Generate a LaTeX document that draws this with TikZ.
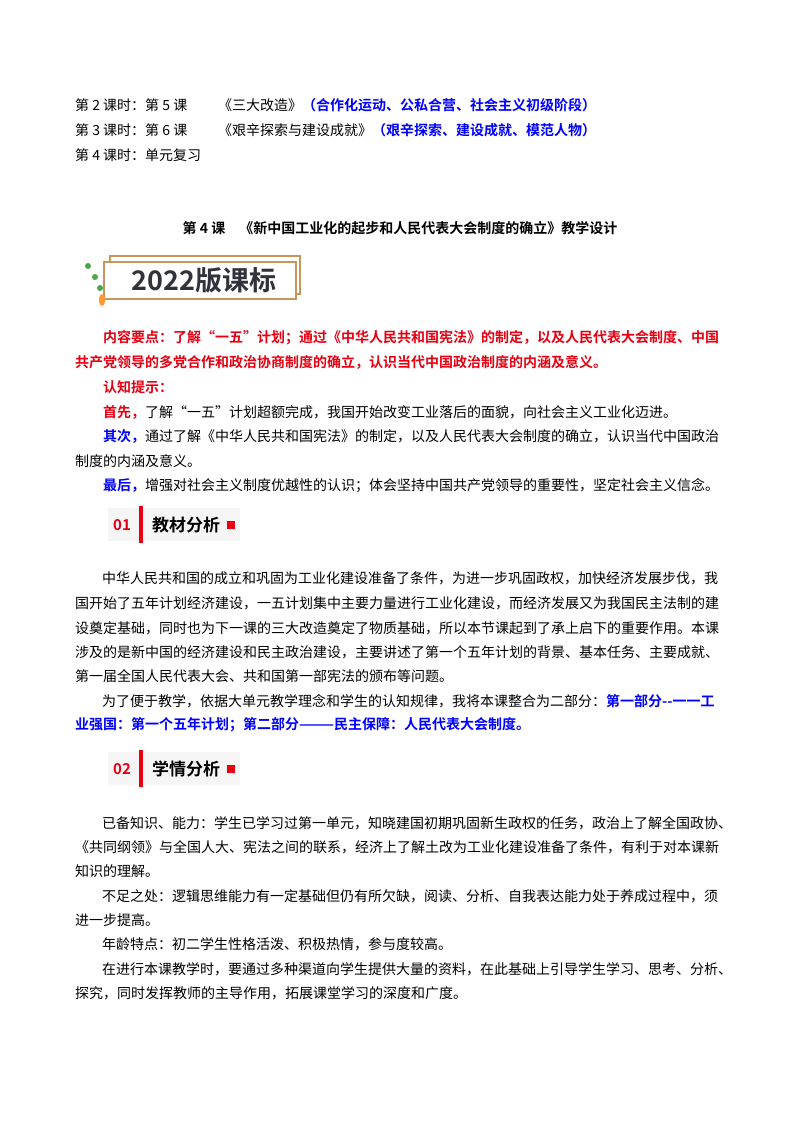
\documentclass[tikz,border=0pt]{standalone}
\usepackage{fontspec}
\setmainfont{Noto Sans CJK SC}[BoldFont={Noto Sans CJK SC Bold}]
\definecolor{rd}{RGB}{230,0,18}
\definecolor{bl}{RGB}{0,0,255}
\definecolor{gold}{RGB}{200,150,90}
\definecolor{dk}{RGB}{50,50,60}
\tikzset{ln/.style={anchor=west,inner sep=0pt,font=\fontsize{14}{16}\selectfont},
 rb/.style={text=rd,font=\fontsize{14}{16}\selectfont\bfseries},
 bb/.style={text=bl,font=\fontsize{14}{16}\selectfont\bfseries}}
\newcommand{\R}[1]{\textcolor{rd}{\bfseries #1}}
\newcommand{\B}[1]{\textcolor{bl}{\bfseries #1}}
\begin{document}
\begin{tikzpicture}[x=1pt,y=-1pt]
\useasboundingbox[fill=white] (0,0) rectangle (800,1132);
\node[ln] (a1) at (75,105) {第 2 课时：第 5 课};
\node[ln] (a2) at (218,105) {《三大改造》\B{（合作化运动、公私合营、社会主义初级阶段）}};
\node[ln] (b1) at (75,130) {第 3 课时：第 6 课};
\node[ln] (b2) at (218,130) {《艰辛探索与建设成就》\B{（艰辛探索、建设成就、模范人物）}};
\node[ln] (c1) at (75,155) {第 4 课时：单元复习};
\node[ln,font=\fontsize{14}{16}\selectfont\bfseries,anchor=center] (title) at (400,228) {第 4 课\quad《新中国工业化的起步和人民代表大会制度的确立》教学设计};
% badge
\draw[gold,line width=1.5pt] (110,256) rectangle (300,294);
\draw[gold,line width=1.5pt,fill=white] (104,262) rectangle (296,299);
\node[inner sep=0pt,text=dk,font=\fontsize{27}{30}\selectfont\bfseries] (badge) at (204,280) {2022版课标};
\fill[green!50!black!70] (88,266) circle (3) (95,277) circle (3) (100,288) circle (3);
\fill[orange!80] (102,300) ellipse (3 and 6);
% content
\node[ln] (k1) at (103,338) {\R{内容要点：了解“一五”计划；通过《中华人民共和国宪法》的制定，以及人民代表大会制度、中国}};
\node[ln] (k2) at (75,362) {\R{共产党领导的多党合作和政治协商制度的确立，认识当代中国政治制度的内涵及意义。}};
\node[ln] (k3) at (103,387) {\R{认知提示：}};
\node[ln] (k4) at (103,412) {\R{首先，}了解“一五”计划超额完成，我国开始改变工业落后的面貌，向社会主义工业化迈进。};
\node[ln] (k5) at (103,437) {\B{其次，}通过了解《中华人民共和国宪法》的制定，以及人民代表大会制度的确立，认识当代中国政治};
\node[ln] (k6) at (75,461) {制度的内涵及意义。};
\node[ln] (k7) at (103,486) {\B{最后，}增强对社会主义制度优越性的认识；体会坚持中国共产党领导的重要性，坚定社会主义信念。};
% section 01
\fill[gray!8] (108,508) rectangle (240,541);
\fill[rd] (139,506) rectangle (143,543);
\node[inner sep=0pt,text=rd,font=\fontsize{15}{16}\selectfont\bfseries] (s1n) at (122,525) {01};
\node[ln,font=\fontsize{17}{18}\selectfont\bfseries] (s1t) at (152,525) {教材分析};
\fill[rd] (227,521) rectangle (235,529);
\node[ln] (p1) at (102,578) {中华人民共和国的成立和巩固为工业化建设准备了条件，为进一步巩固政权，加快经济发展步伐，我};
\node[ln] (p2) at (75,603) {国开始了五年计划经济建设，一五计划集中主要力量进行工业化建设，而经济发展又为我国民主法制的建};
\node[ln] (p3) at (75,628) {设奠定基础，同时也为下一课的三大改造奠定了物质基础，所以本节课起到了承上启下的重要作用。本课};
\node[ln] (p4) at (75,652) {涉及的是新中国的经济建设和民主政治建设，主要讲述了第一个五年计划的背景、基本任务、主要成就、};
\node[ln] (p5) at (75,676) {第一届全国人民代表大会、共和国第一部宪法的颁布等问题。};
\node[ln] (p6) at (102,701) {为了便于教学，依据大单元教学理念和学生的认知规律，我将本课整合为二部分：\B{第一部分{-}{-}一一工}};
\node[ln] (p7) at (75,725) {\B{业强国：第一个五年计划；第二部分———民主保障：人民代表大会制度。}};
% section 02
\fill[gray!8] (108,752) rectangle (240,785);
\fill[rd] (139,750) rectangle (143,787);
\node[inner sep=0pt,text=rd,font=\fontsize{15}{16}\selectfont\bfseries] (s2n) at (122,769) {02};
\node[ln,font=\fontsize{17}{18}\selectfont\bfseries] (s2t) at (152,769) {学情分析};
\fill[rd] (227,765) rectangle (235,773);
\node[ln] (q1) at (102,823) {已备知识、能力：学生已学习过第一单元，知晓建国初期巩固新生政权的任务，政治上了解全国政协、};
\node[ln] (q2) at (75,847) {《共同纲领》与全国人大、宪法之间的联系，经济上了解土改为工业化建设准备了条件，有利于对本课新};
\node[ln] (q3) at (75,871) {知识的理解。};
\node[ln] (q4) at (102,896) {不足之处：逻辑思维能力有一定基础但仍有所欠缺，阅读、分析、自我表达能力处于养成过程中，须};
\node[ln] (q5) at (75,920) {进一步提高。};
\node[ln] (q6) at (102,944) {年龄特点：初二学生性格活泼、积极热情，参与度较高。};
\node[ln] (q7) at (102,969) {在进行本课教学时，要通过多种渠道向学生提供大量的资料，在此基础上引导学生学习、思考、分析、};
\node[ln] (q8) at (75,993) {探究，同时发挥教师的主导作用，拓展课堂学习的深度和广度。};
\end{tikzpicture}
\end{document}
